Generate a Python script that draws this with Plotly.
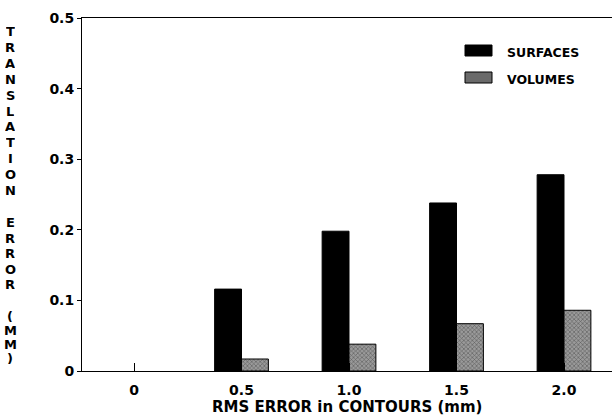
import plotly.graph_objects as go

# ---- data ----
rms_error = [0, 0.5, 1.0, 1.5, 2.0]
x_tick_labels = ["0", "0.5", "1.0", "1.5", "2.0"]
surfaces = [0.0, 0.116, 0.198, 0.238, 0.278]
volumes = [0.0, 0.017, 0.038, 0.067, 0.086]
y_tick_vals = [0, 0.1, 0.2, 0.3, 0.4, 0.5]
y_tick_labels = ["0", "0.1", "0.2", "0.3", "0.4", "0.5"]
series_names = ["SURFACES", "VOLUMES"]
y_title = "TRANSLATION ERROR (MM)"
x_title = "RMS ERROR in CONTOURS (mm)"

# ---- layout geometry (pixels) ----
W, H = 612, 417
L, R, T, B = 82, 0, 18, 46
PW, PH = W - L - R, H - T - B
FONT = "DejaVu Sans"


def px_x(p):
    return (p - L) / PW


def px_y(p):
    return (H - B - p) / PH


def outline_widths(vals):
    return [1 if v > 0 else 0 for v in vals]


fig = go.Figure()
fig.add_trace(go.Bar(
    x=rms_error, y=surfaces, name=series_names[0],
    marker=dict(color="black", line=dict(color="black", width=outline_widths(surfaces))),
    showlegend=False,
))
fig.add_trace(go.Bar(
    x=rms_error, y=volumes, name=series_names[1],
    marker=dict(color="#8c8c8c", line=dict(color="black", width=outline_widths(volumes)),
                pattern=dict(shape="x", fgcolor="#1a1a1a", bgcolor="#9a9a9a",
                             size=3, solidity=0.35)),
    showlegend=False,
))

annotations = []
# vertical stacked y-axis title, letter by letter
words = y_title.split(" ")
starts = [31, 222, 316]
steps = [15.9, 15.5, 14.0]
for w, s0, st in zip(words, starts, steps):
    for i, ch in enumerate(w):
        annotations.append(dict(
            text=ch, x=px_x(10), y=px_y(s0 + i * st), xref="paper", yref="paper",
            xanchor="center", yanchor="middle", showarrow=False,
            height=12, borderpad=0,
            font=dict(family=FONT, size=13, color="black", weight="bold")))

# x-axis title
annotations.append(dict(
    text=x_title, x=px_x(347), y=px_y(407), xref="paper", yref="paper",
    xanchor="center", yanchor="middle", showarrow=False,
    font=dict(family=FONT, size=15, color="black", weight="bold")))

# legend (manual)
shapes = []
legend_rows = [(45, 56), (72, 83)]
legend_fill = ["black", "#6a6a6a"]
for name, (y0, y1), fc in zip(series_names, legend_rows, legend_fill):
    shapes.append(dict(type="rect", xref="paper", yref="paper",
                       x0=px_x(465), x1=px_x(492), y0=px_y(y1), y1=px_y(y0),
                       fillcolor=fc, line=dict(color="black", width=1)))
    annotations.append(dict(
        text=name, x=px_x(505), y=px_y((y0 + y1) / 2 + 2), xref="paper", yref="paper",
        xanchor="left", yanchor="middle", showarrow=False,
        font=dict(family=FONT, size=12.5, color="black", weight="bold")))

fig.update_layout(
    width=W, height=H,
    margin=dict(l=L, r=R, t=T, b=B, pad=0),
    paper_bgcolor="white", plot_bgcolor="white",
    barmode="group", bargap=0.5, bargroupgap=0,
    showlegend=False,
    font=dict(family=FONT, color="black"),
    annotations=annotations, shapes=shapes,
    xaxis=dict(
        range=[-52 / 215, PW / 215 - 52 / 215],
        tickvals=rms_error, ticktext=x_tick_labels,
        ticks="inside", ticklen=8, tickcolor="black", tickwidth=1,
        showline=True, linecolor="black", linewidth=1, mirror=True,
        showgrid=False, zeroline=False,
        ticklabelstandoff=6,
        tickfont=dict(family=FONT, size=14, color="black", weight="bold"),
    ),
    yaxis=dict(
        range=[0, 0.5],
        tickvals=y_tick_vals, ticktext=y_tick_labels,
        ticks="outside", ticklen=4, tickcolor="black", tickwidth=1,
        showline=True, linecolor="black", linewidth=1,
        showgrid=False, zeroline=False,
        tickfont=dict(family=FONT, size=14, color="black", weight="bold"),
    ),
)

fig.write_html("out.html",
               config={"displayModeBar": False},
               post_script="document.body.style.margin='0';document.body.style.overflow='hidden';")
